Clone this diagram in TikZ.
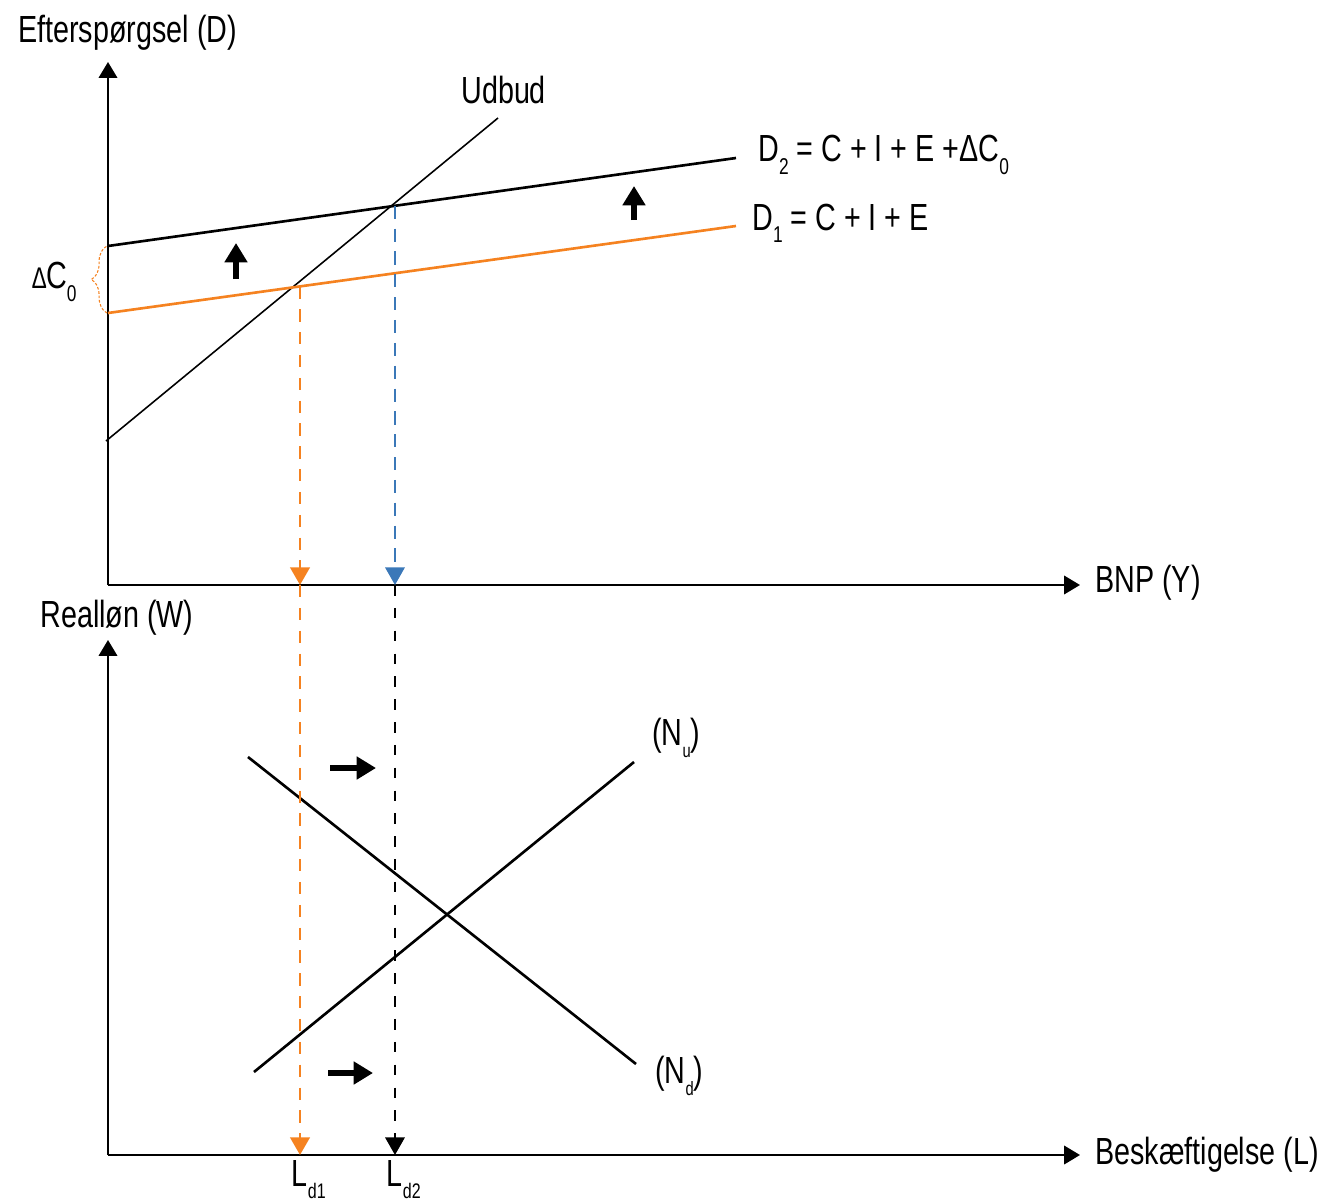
\documentclass[tikz,border=0pt]{standalone}
\usepackage{fontspec}
\setmainfont{Liberation Sans}[FakeStretch=0.76]
\usetikzlibrary{arrows.meta,decorations.pathreplacing}
\definecolor{dorange}{HTML}{F58220}
\definecolor{dblue}{HTML}{3B78B8}
\newcommand{\mysub}[1]{\raisebox{-7pt}{\fontsize{13}{13}\selectfont #1}}
\begin{document}
\begin{tikzpicture}[x=0.02cm,y=-0.02cm,
  axis/.style={line width=1.1pt,-{Triangle[length=9pt,width=10.5pt]}},
  lab/.style={font=\fontsize{21.5}{24}\selectfont,inner sep=0pt,anchor=west},
  curve/.style={line width=1.5pt},
  thin curve/.style={line width=0.9pt},
  dashtip/.style={-{Triangle[length=10pt,width=11pt]}},
  odash/.style={dorange,line width=1.7pt,dash pattern=on 7pt off 6pt,dashtip},
  bdash/.style={dblue,line width=1.3pt,dash pattern=on 7.5pt off 5.5pt,dashtip},
  kdash/.style={black,line width=1.3pt,dash pattern=on 6pt off 7pt,dashtip},
  shift arrow/.style={line width=3.8pt,-{Triangle[length=11pt,width=12.5pt]}}]
\useasboundingbox (0,0) rectangle (1325,1203);

% ---------- upper chart ----------
\coordinate (O1) at (108,585);
\coordinate (Ytop) at (108,62);
\coordinate (Xr) at (1080,585);
\draw[axis] (O1) -- (Ytop);
\draw[axis] (O1) -- (Xr);
\node[lab] (ylab1) at (18,33) {Efterspørgsel (D)};
\node[lab] (xlab1) at (1095,583) {BNP (Y)};

\coordinate (U1) at (106,441);
\coordinate (U2) at (498,118);
\coordinate (D2a) at (108,246);
\coordinate (D2b) at (736,158);
\coordinate (D1a) at (108,313);
\coordinate (D1b) at (736,226);
\draw[thin curve] (U1) -- (U2);
\draw[curve,black] (D2a) -- (D2b);
\draw[curve,dorange] (D1a) -- (D1b);
\node[lab] (udbud) at (461,90) {Udbud};
\node[lab] (d2lab) at (758,155) {D\mysub{2} = C + I + E +ΔC\mysub{0}};
\node[lab] (d1lab) at (752,223) {D\mysub{1} = C + I + E};

\coordinate (V1) at (300,0);
\coordinate (V2) at (395,0);
\coordinate (E1) at (intersection of V1--{[yshift=-1cm]V1} and D1a--D1b);
\coordinate (E2) at (intersection of V2--{[yshift=-1cm]V2} and D2a--D2b);

% shift arrows
\coordinate (ua1) at (236,279);
\coordinate (ua1t) at (236,243);
\coordinate (ua2) at (634,220);
\coordinate (ua2t) at (634,186);
\draw[shift arrow] (ua1) -- (ua1t);
\draw[shift arrow] (ua2) -- (ua2t);

% brace
\draw[dorange,line width=0.6pt,dash pattern=on 1.5pt off 1pt,decorate,decoration={brace,amplitude=9pt}] (107,313) -- (107,246);
\node[lab] (dc0) at (32,282) {{\fontsize{17}{17}\selectfont ∆}C\mysub{0}};

% ---------- lower chart ----------
\coordinate (O2) at (108,1155);
\coordinate (Ytop2) at (108,640);
\coordinate (Xr2) at (1080,1155);
\draw[axis] (O2) -- (Ytop2);
\draw[axis] (O2) -- (Xr2);
\node[lab] (ylab2) at (40,618) {Realløn (W)};
\node[lab] (xlab2) at (1095,1155) {Beskæftigelse (L)};

\coordinate (Nd1) at (248,757);
\coordinate (Nd2) at (636,1064);
\coordinate (Nu1) at (254,1072);
\coordinate (Nu2) at (634,762);
\draw[curve] (Nd1) -- (Nd2);
\draw[curve] (Nu1) -- (Nu2);
\node[lab] (nulab) at (652,738) {(N\raisebox{-7pt}{\fontsize{11}{11}\selectfont u})};
\node[lab] (ndlab) at (655,1076) {(N\raisebox{-7pt}{\fontsize{11}{11}\selectfont d})};

\coordinate (ra1) at (330,768);
\coordinate (ra1t) at (376,768);
\coordinate (ra2) at (328,1073);
\coordinate (ra2t) at (373,1073);
\draw[shift arrow] (ra1) -- (ra1t);
\draw[shift arrow] (ra2) -- (ra2t);

% ---------- dashed projections ----------
\coordinate (B1) at (E1 |- O1);
\coordinate (B2) at (E2 |- O1);
\coordinate (C1) at (E1 |- O2);
\coordinate (C2) at (E2 |- O2);
\draw[odash] (E1) -- (B1);
\draw[odash] (B1) -- (C1);
\draw[bdash] (E2) -- (B2);
\draw[kdash] (B2) -- (C2);

\node[lab,anchor=north] (ld1) at ([xshift=5pt,yshift=-3pt]C1) {L\raisebox{-7pt}{\fontsize{12}{12}\selectfont d1}};
\node[lab,anchor=north] (ld2) at ([xshift=5pt,yshift=-3pt]C2) {L\raisebox{-7pt}{\fontsize{12}{12}\selectfont d2}};
\end{tikzpicture}
\end{document}
